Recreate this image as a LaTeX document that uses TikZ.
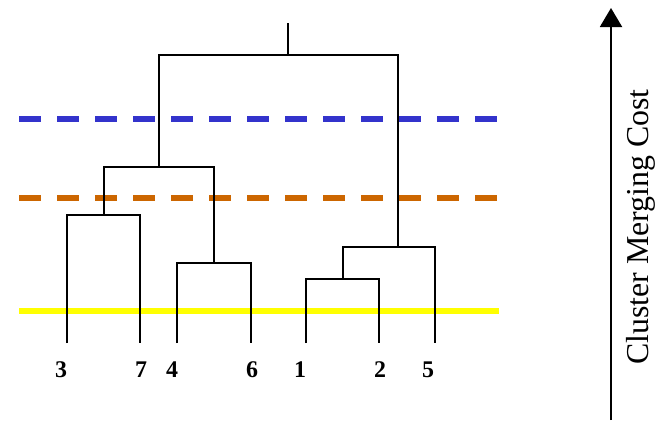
\documentclass[tikz,border=0pt]{standalone}
\usepackage{fontspec}
\setmainfont{Liberation Serif}
\usetikzlibrary{arrows.meta}
\definecolor{cutblue}{RGB}{51,51,204}
\definecolor{cutorange}{RGB}{204,102,0}
\definecolor{cutyellow}{RGB}{255,255,0}
\begin{document}
\begin{tikzpicture}[x=1bp,y=-1bp,
  tree/.style={line width=2.6bp,black},
  cutline/.style={line width=5.5bp,dash pattern=on 22bp off 16bp},
  leaflabel/.style={font=\fontsize{24}{28}\selectfont\bfseries,inner sep=0pt,anchor=center}]
\useasboundingbox (0,0) rectangle (664,420);
% cut lines
\draw[cutline,cutblue] (19,119) -- (500,119);
\draw[cutline,cutorange] (19,198) -- (500,198);
\draw[line width=6bp,cutyellow] (19,311) -- (499,311);
% leaves
\coordinate (l3) at (67,343);
\coordinate (l7) at (140,343);
\coordinate (l4) at (177,343);
\coordinate (l6) at (251,343);
\coordinate (l1) at (306,343);
\coordinate (l2) at (379,343);
\coordinate (l5) at (435,343);
% merges
\coordinate (m37) at (104,215);
\coordinate (m46) at (214,263);
\coordinate (m12) at (343,279);
\coordinate (m125) at (398,247);
\coordinate (m3746) at (159,167);
\coordinate (root) at (288,55);
\coordinate (top) at (288,23);
% tree
\draw[tree] (l3) |- (m37) -| (l7);
\draw[tree] (l4) |- (m46) -| (l6);
\draw[tree] (l1) |- (m12) -| (l2);
\draw[tree] (m12) |- (m125) -| (l5);
\draw[tree] (m37) |- (m3746) -| (m46);
\draw[tree] (m3746) |- (root) -| (m125);
\draw[tree] (root) -- (top);
% labels
\node[leaflabel] (t3) at (61,370) {3};
\node[leaflabel] (t7) at (141,370) {7};
\node[leaflabel] (t4) at (172,370) {4};
\node[leaflabel] (t6) at (252,370) {6};
\node[leaflabel] (t1) at (300,370) {1};
\node[leaflabel] (t2) at (380,370) {2};
\node[leaflabel] (t5) at (428,370) {5};
% axis
\coordinate (abot) at (611,420);
\coordinate (atop) at (611,8);
\draw[line width=2bp,-{Triangle[length=19bp,width=22bp]}] (abot) -- (atop);
\node[rotate=90,font=\fontsize{32}{36}\selectfont,inner sep=0pt] (axlabel) at (641,227) {Cluster Merging Cost};
\end{tikzpicture}
\end{document}
